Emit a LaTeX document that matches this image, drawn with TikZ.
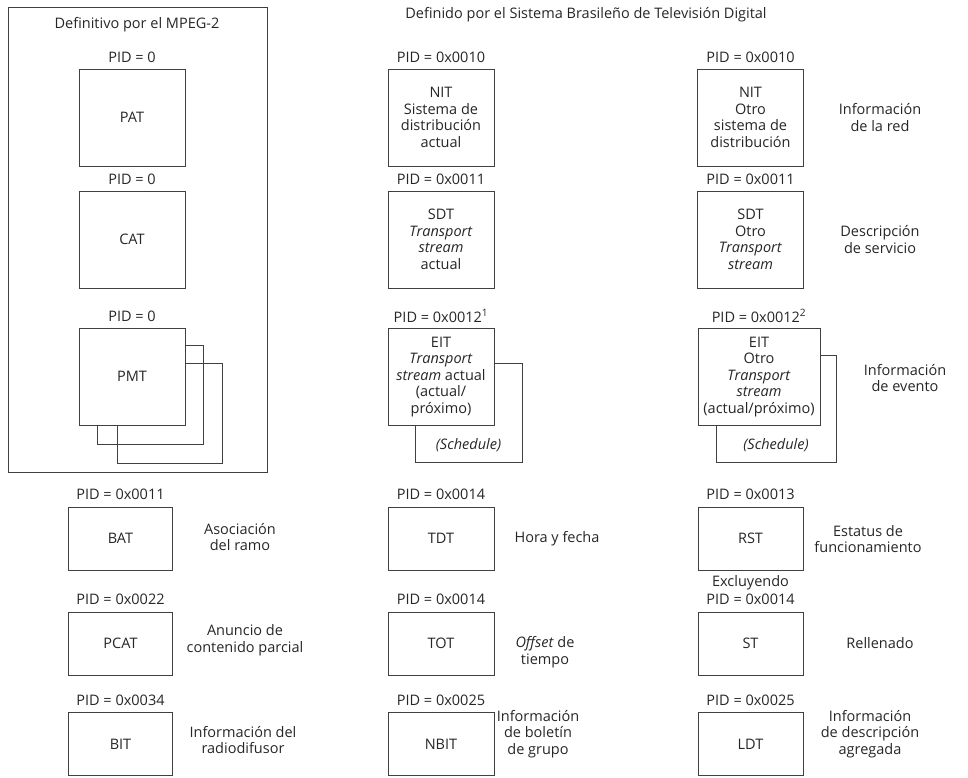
\documentclass[tikz,border=0pt]{standalone}
\usepackage{fontspec}
\setmainfont{Open Sans}
\begin{document}
\begin{tikzpicture}[x=1pt,y=-1pt,
  font=\fontsize{14.5}{16.5}\selectfont,
  every node/.style={text=black!85},
  tbox/.style={draw=black!75, line width=0.9pt, fill=white, inner sep=0pt, align=center},
  backbox/.style={draw=black!75, line width=0.9pt, inner sep=0pt},
  bigbox/.style={tbox, minimum width=106pt, minimum height=97pt},
  smallbox/.style={tbox, minimum width=104pt, minimum height=63pt},
  lbl/.style={align=center, inner sep=0pt},
  frame/.style={draw=black!75, line width=0.9pt}]
\useasboundingbox (0,0) rectangle (968,777);

% MPEG-2 frame
\node[frame, minimum width=259pt, minimum height=465pt, inner sep=0pt] (mpeg) at (137.5,239.5) {};
\node[lbl] (tmpeg) at (137,25) {Definitivo por el MPEG-2};
\node[lbl] (tsbtvd) at (586,15) {Definido por el Sistema Brasileño de Televisión Digital};

% Left column
\node[lbl] (pidpat) at (132,57) {PID = 0};
\node[bigbox] (pat) at (132,117.5) {PAT};
\node[lbl] (pidcat) at (132,179) {PID = 0};
\node[bigbox] (cat) at (132,239.5) {CAT};
\node[lbl] (pidpmt) at (132,316) {PID = 0};
\node[backbox, minimum width=105pt, minimum height=100pt] (pmtc) at (169.5,413) {};
\node[backbox, minimum width=106pt, minimum height=99pt] (pmtb) at (150,394.5) {};
\node[bigbox] (pmt) at (132,376.5) {PMT};

% Middle column
\node[lbl] (pidnit) at (441,57) {PID = 0x0010};
\node[bigbox] (nit) at (441,117.5) {NIT\\Sistema de\\distribución\\actual};
\node[lbl] (pidsdt) at (441,179) {PID = 0x0011};
\node[bigbox] (sdt) at (441,239.5) {SDT\\\textit{Transport}\\\textit{stream}\\actual};
\node[lbl] (pideit) at (441,316) {PID = 0x0012\textsuperscript{1}};
\node[backbox, minimum width=107pt, minimum height=99pt] (eitsch) at (468.5,412.5) {};
\node[bigbox] (eit) at (441,377) {EIT\\\textit{Transport}\\\textit{stream} actual\\(actual/\\próximo)};
\node[lbl] (tsch) at (468.5,445) {\textit{(Schedule)}};

% Right column
\node[lbl] (pidnit2) at (750.5,57) {PID = 0x0010};
\node[bigbox] (nit2) at (750.5,117.5) {NIT\\Otro\\sistema de\\distribución};
\node[lbl] (dnit) at (880,117.5) {Información\\de la red};
\node[lbl] (pidsdt2) at (750.5,179) {PID = 0x0011};
\node[bigbox] (sdt2) at (750.5,239.5) {SDT\\Otro\\\textit{Transport}\\\textit{stream}};
\node[lbl] (dsdt) at (880,239.5) {Descripción\\de servicio};
\node[lbl] (pideit2) at (759,316) {PID = 0x0012\textsuperscript{2}};
\node[backbox, minimum width=120pt, minimum height=107pt] (eitsch2) at (776,408.5) {};
\node[bigbox, minimum width=122pt] (eit2) at (759,377) {EIT\\Otro\\\textit{Transport}\\\textit{stream}\\(actual/próximo)};
\node[lbl] (tsch2) at (776,445) {\textit{(Schedule)}};
\node[lbl] (deit) at (905,378) {Información\\de evento};

% Bottom rows, left
\node[lbl] (pidbat) at (120.5,494) {PID = 0x0011};
\node[smallbox] (bat) at (120.5,538.5) {BAT};
\node[lbl] (dbat) at (240,537) {Asociación\\del ramo};
\node[lbl] (pidpcat) at (120.5,599) {PID = 0x0022};
\node[smallbox] (pcat) at (120.5,643.5) {PCAT};
\node[lbl] (dpcat) at (245,640) {Anuncio de\\contenido parcial};
\node[lbl] (pidbit) at (120.5,700) {PID = 0x0034};
\node[smallbox] (bit) at (120.5,744) {BIT};
\node[lbl] (dbit) at (243,740) {Información del\\radiodifusor};

% Bottom rows, middle
\node[lbl] (pidtdt) at (441,494) {PID = 0x0014};
\node[smallbox, minimum width=106pt] (tdt) at (441,538.5) {TDT};
\node[lbl] (dtdt) at (557,538.5) {Hora y fecha};
\node[lbl] (pidtot) at (441,599) {PID = 0x0014};
\node[smallbox, minimum width=106pt] (tot) at (441,643.5) {TOT};
\node[lbl] (dtot) at (545,652) {\textit{Offset} de\\tiempo};
\node[lbl] (pidnbit) at (441,700) {PID = 0x0025};
\node[smallbox, minimum width=106pt] (nbit) at (441,744) {NBIT};
\node[lbl] (dnbit) at (538,734) {Información\\de boletín\\de grupo};

% Bottom rows, right
\node[lbl] (pidrst) at (750.5,494) {PID = 0x0013};
\node[smallbox, minimum width=105pt] (rst) at (750.5,538.5) {RST};
\node[lbl] (drst) at (868,539) {Estatus de\\funcionamiento};
\node[lbl] (excl) at (750.5,583) {Excluyendo};
\node[lbl] (pidst) at (750.5,599) {PID = 0x0014};
\node[smallbox, minimum width=105pt] (st) at (750.5,643.5) {ST};
\node[lbl] (dst) at (880,643.5) {Rellenado};
\node[lbl] (pidldt) at (750.5,700) {PID = 0x0025};
\node[smallbox, minimum width=105pt] (ldt) at (750.5,744) {LDT};
\node[lbl] (dldt) at (870,734) {Información\\de descripción\\agregada};
\end{tikzpicture}
\end{document}
